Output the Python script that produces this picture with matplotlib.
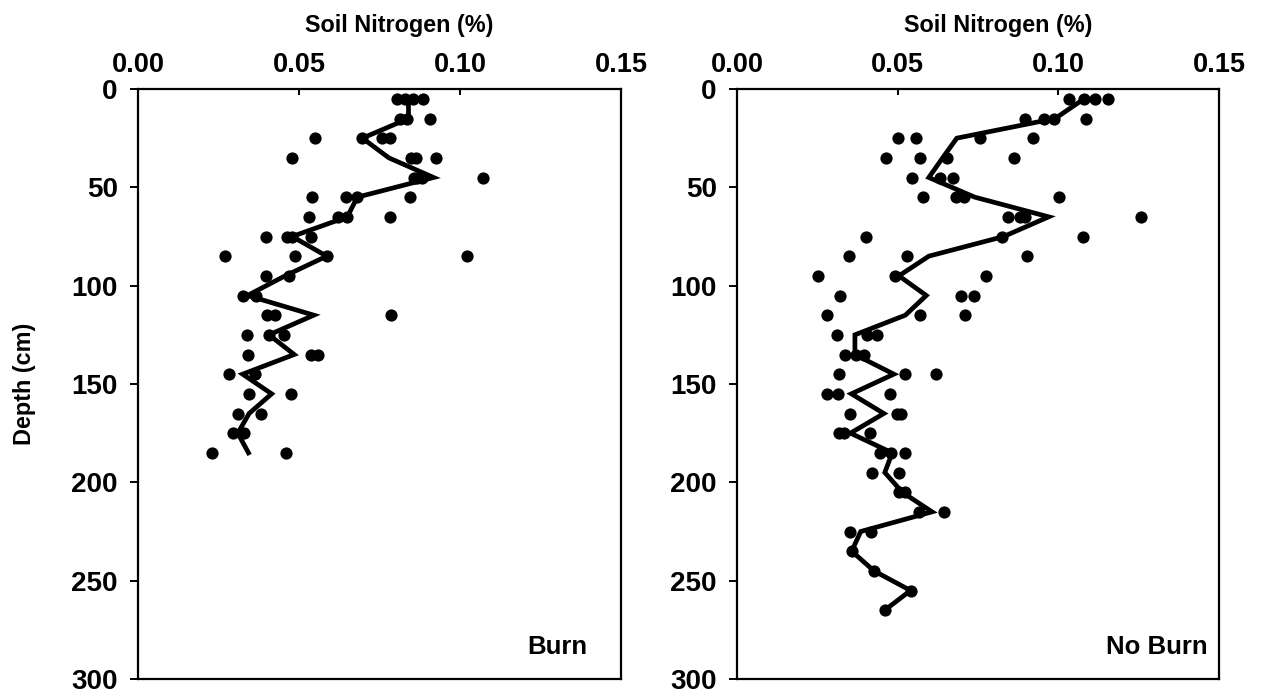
import matplotlib
matplotlib.use("Agg")
import matplotlib.pyplot as plt

plt.rcParams['font.family'] = ['Liberation Sans', 'DejaVu Sans']
plt.rcParams['font.weight'] = 'bold'

# ---- Burn plot: sampled depths (cm) and soil N (%) of individual cores ----
burn_depths = [5, 15, 25, 35, 45, 55, 65, 75, 85, 95, 105, 115, 125, 135, 145, 155, 165, 175, 185]
burn_samples = [
    [0.0804, 0.0828, 0.0853, 0.0884],
    [0.0815, 0.0835, 0.0908],
    [0.0550, 0.0696, 0.0758, 0.0784],
    [0.0477, 0.0849, 0.0863, 0.0925],
    [0.0856, 0.0865, 0.0881, 0.1070],
    [0.0539, 0.0645, 0.0681, 0.0846],
    [0.0531, 0.0622, 0.0650, 0.0782],
    [0.0399, 0.0464, 0.0479, 0.0536],
    [0.0270, 0.0487, 0.0586, 0.1021],
    [0.0396, 0.0468],
    [0.0325, 0.0367],
    [0.0402, 0.0426, 0.0786],
    [0.0337, 0.0407, 0.0454],
    [0.0342, 0.0536, 0.0560],
    [0.0283, 0.0364],
    [0.0345, 0.0476],
    [0.0312, 0.0381],
    [0.0294, 0.0328],
    [0.0230, 0.0459],
]
burn_mean = [0.0840, 0.0840, 0.0697, 0.0779, 0.0918, 0.0681, 0.0650, 0.0479, 0.0586,
             0.0457, 0.0340, 0.0546, 0.0407, 0.0485, 0.0325, 0.0415, 0.0345, 0.0310, 0.0343]

# ---- No Burn plot ----
noburn_depths = [5, 15, 25, 35, 45, 55, 65, 75, 85, 95, 105, 115, 125, 135, 145, 155,
                 165, 175, 185, 195, 205, 215, 225, 235, 245, 255, 265]
noburn_samples = [
    [0.1032, 0.1080, 0.1114, 0.1154],
    [0.0895, 0.0954, 0.0985, 0.1086],
    [0.0501, 0.0558, 0.0757, 0.0921],
    [0.0464, 0.0569, 0.0652, 0.0863],
    [0.0545, 0.0633, 0.0671],
    [0.0578, 0.0682, 0.0707, 0.1001],
    [0.0843, 0.0881, 0.0897, 0.1257],
    [0.0400, 0.0825, 0.1076],
    [0.0350, 0.0530, 0.0902],
    [0.0253, 0.0491, 0.0775],
    [0.0320, 0.0698, 0.0737],
    [0.0281, 0.0571, 0.0711],
    [0.0310, 0.0405, 0.0436],
    [0.0336, 0.0369, 0.0395],
    [0.0317, 0.0524, 0.0620],
    [0.0281, 0.0315, 0.0476],
    [0.0352, 0.0498, 0.0509],
    [0.0317, 0.0333, 0.0414],
    [0.0445, 0.0478, 0.0522],
    [0.0419, 0.0504],
    [0.0504, 0.0524],
    [0.0566, 0.0643],
    [0.0352, 0.0416],
    [0.0357],
    [0.0426],
    [0.0540],
    [0.0460],
]
noburn_mean = [0.1080, 0.0990, 0.0684, 0.0640, 0.0597, 0.0740, 0.0970, 0.0830, 0.0597,
               0.0504, 0.0589, 0.0524, 0.0367, 0.0367, 0.0488, 0.0356, 0.0457, 0.0353,
               0.0483, 0.0460, 0.0514, 0.0607, 0.0385, 0.0357, 0.0426, 0.0540, 0.0460]

x_ticks = [0.00, 0.05, 0.10, 0.15]
x_tick_labels = ["0.00", "0.05", "0.10", "0.15"]
y_ticks = [0, 50, 100, 150, 200, 250, 300]
panel_labels = ["Burn", "No Burn"]
x_title = "Soil Nitrogen (%)"
y_title = "Depth (cm)"

W, H = 1262, 694
fig = plt.figure(figsize=(W / 100, H / 100), dpi=100)

def px_axes(left, top, right, bottom):
    return [left / W, 1 - bottom / H, (right - left) / W, (bottom - top) / H]

ax_burn = fig.add_axes(px_axes(138, 89, 621, 679))
ax_noburn = fig.add_axes(px_axes(737, 89, 1219, 679))

def draw_panel(ax, depths, samples, mean, label, label_x):
    xs, ys = [], []
    for d, vals in zip(depths, samples):
        for v in vals:
            xs.append(v)
            ys.append(d)
    ax.plot(xs, ys, 'o', color='black', markersize=8.8, markeredgewidth=0, zorder=3)
    ax.plot(mean, depths, '-', color='black', linewidth=3.4, zorder=2,
            solid_joinstyle='miter')
    ax.set_xlim(0, 0.15)
    ax.set_ylim(300, 0)
    ax.set_xticks(x_ticks)
    ax.set_xticklabels(x_tick_labels)
    ax.set_yticks(y_ticks)
    ax.xaxis.tick_top()
    ax.tick_params(axis='x', which='both', direction='in', length=4.5, width=1.4,
                   labelsize=19.5, pad=8, top=True, bottom=False,
                   labeltop=True, labelbottom=False)
    ax.tick_params(axis='y', which='both', direction='out', length=5.5, width=1.4,
                   labelsize=20, pad=9, left=True, right=False)
    for lab in ax.get_xticklabels() + ax.get_yticklabels():
        lab.set_fontweight('bold')
    for sp in ax.spines.values():
        sp.set_linewidth(1.6)
    ax.text(label_x, 0.0424, label, transform=ax.transAxes, ha='right',
            va='baseline', fontsize=18.5, fontweight='bold')

draw_panel(ax_burn, burn_depths, burn_samples, burn_mean, panel_labels[0], 0.9296)
draw_panel(ax_noburn, noburn_depths, noburn_samples, noburn_mean, panel_labels[1], 0.9765)

fig.text(399 / W, 1 - 31.7 / H, x_title, ha='center', va='baseline',
         fontsize=16.8, fontweight='bold')
fig.text(998 / W, 1 - 31.7 / H, x_title, ha='center', va='baseline',
         fontsize=16.8, fontweight='bold')
fig.text(24 / W, 1 - 384 / H, y_title, rotation=90, ha='center', va='center',
         fontsize=16.8, fontweight='bold')

fig.savefig("out.png", dpi=100, facecolor='white')
